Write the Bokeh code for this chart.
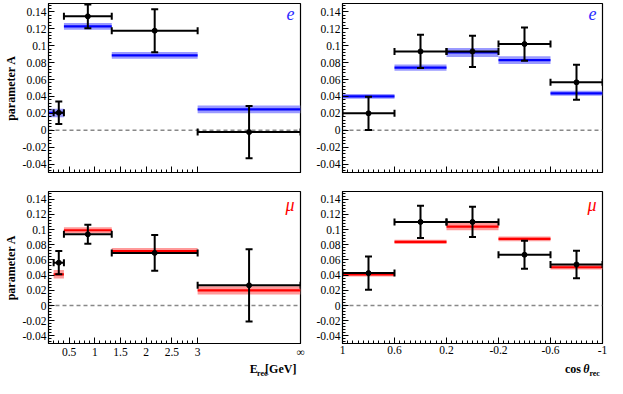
import numpy as np
from bokeh.plotting import figure
from bokeh.models import Range1d, FixedTicker, CustomJSTickFormatter, Span, Label
from bokeh.layouts import gridplot
from bokeh.embed import file_html
from bokeh.resources import INLINE

# ---------------- data ----------------
# reconstructed-energy bins [GeV] (last bin 3 GeV .. infinity, drawn up to 5)
E_lo = [0.2, 0.4, 1.33, 3.0]
E_hi = [0.4, 1.33, 3.0, 5.0]
E_mid = [0.3, 0.865, 2.165, 4.0]
E_band_lo_e = [0.1, 0.4, 1.33, 3.0]
E_band_lo_mu = [0.2, 0.4, 1.33, 3.0]
E_ticks = [0.5, 1.0, 1.5, 2.0, 2.5, 3.0, 5.0]

# cos(theta_rec) bins
C_lo = [1.0, 0.6, 0.2, -0.2, -0.6]
C_hi = [0.6, 0.2, -0.2, -0.6, -1.0]
C_mid = [0.8, 0.4, 0.0, -0.4, -0.8]
C_ticks = [1.0, 0.6, 0.2, -0.2, -0.6, -1.0]

Y_ticks = [-0.04, -0.02, 0.0, 0.02, 0.04, 0.06, 0.08, 0.1, 0.12, 0.14]

# electron, energy
eE_data = [0.0207, 0.1348, 0.1178, -0.0022]
eE_err = [0.0133, 0.0140, 0.0255, 0.0310]
eE_mc = [0.0205, 0.1230, 0.0885, 0.0248]
eE_mc_err = [0.0050, 0.0040, 0.0040, 0.0046]

# electron, angle
eC_data = [0.0200, 0.0933, 0.0933, 0.1020, 0.0567]
eC_err = [0.0197, 0.0197, 0.0185, 0.0197, 0.0207]
eC_mc = [0.0400, 0.0740, 0.0920, 0.0830, 0.0437]
eC_mc_err = [0.0028, 0.0037, 0.0052, 0.0046, 0.0030]

# muon, energy
mE_data = [0.0563, 0.0937, 0.0692, 0.0266]
mE_err = [0.0153, 0.0125, 0.0235, 0.0475]
mE_mc = [0.0410, 0.0990, 0.0716, 0.0200]
mE_mc_err = [0.0056, 0.0040, 0.0040, 0.0054]

# muon, angle
mC_data = [0.0426, 0.1100, 0.1100, 0.0668, 0.0540]
mC_err = [0.0220, 0.0211, 0.0200, 0.0185, 0.0181]
mC_mc = [0.0410, 0.0837, 0.1038, 0.0877, 0.0503]
mC_mc_err = [0.0027, 0.0028, 0.0048, 0.0030, 0.0030]

FONT = "'Liberation Serif'"

Y_FMT = """
let s = tick.toFixed(2);
if (s.indexOf('.') >= 0) { s = s.replace(/0+$/, '').replace(/\\.$/, ''); }
if (s == '-0') { s = '0'; }
return s;
"""
E_FMT = """
if (Math.abs(tick - 5) < 1e-9) { return '\u221e'; }
let s = tick.toFixed(1);
s = s.replace(/0+$/, '').replace(/\\.$/, '');
return s;
"""
C_FMT = """
let s = tick.toFixed(1);
s = s.replace(/0+$/, '').replace(/\\.$/, '');
if (s == '-0') { s = '0'; }
return s;
"""
NONE_FMT = "return '';"

W_LEFT = 306
W_RIGHT = 301
H_TOP = 180
H_BOT = 180
H_TITLE = 18


def make_panel(kind, top, left, lo, hi, mid, band_lo, data, err, mc, mc_err,
               color, band_color, tag, tag_color):
    if kind == "E":
        xr = Range1d(0.1, 5.0)
        xt = E_ticks
        xm = [round(v, 3) for v in np.arange(0.2, 3.0001, 0.1)]
        fmt = E_FMT
    else:
        xr = Range1d(1.0, -1.0)
        xt = C_ticks
        xm = [round(v, 3) for v in np.arange(-1.0, 1.0001, 0.04)]
        fmt = C_FMT
    p = figure(width=W_LEFT if left else W_RIGHT, height=H_TOP if top else H_BOT,
               x_range=xr, y_range=Range1d(-0.05, 0.15), title=None,
               output_backend="svg", toolbar_location=None,
               min_border_left=40 if left else 36,
               min_border_right=6 if left else 5,
               min_border_top=3 if top else 11,
               min_border_bottom=8 if top else 15,
               background_fill_color="white", border_fill_color="white",
               outline_line_color="black", outline_line_width=1.2)
    p.xgrid.visible = False
    p.ygrid.visible = False

    ym = [round(v, 4) for v in np.arange(-0.048, 0.1501, 0.004)]
    p.yaxis.ticker = FixedTicker(ticks=Y_ticks, minor_ticks=ym)
    p.yaxis.formatter = CustomJSTickFormatter(code=Y_FMT)
    p.xaxis.ticker = FixedTicker(ticks=xt, minor_ticks=xm)
    p.xaxis.formatter = CustomJSTickFormatter(code=NONE_FMT if top else fmt)
    for ax in (p.xaxis[0], p.yaxis[0]):
        ax.major_tick_in = 6
        ax.major_tick_out = 0
        ax.minor_tick_in = 3
        ax.minor_tick_out = 0
        ax.axis_line_color = "black"
        ax.major_tick_line_color = "black"
        ax.minor_tick_line_color = "black"
        ax.major_label_text_font = FONT
        ax.major_label_text_font_size = "11.5px"
        ax.major_label_text_color = "black"
        ax.major_label_standoff = 2
    if left:
        p.yaxis.axis_label = "parameter A"
        p.yaxis.axis_label_text_font = FONT
        p.yaxis.axis_label_text_font_style = "bold"
        p.yaxis.axis_label_text_font_size = "12px"
        p.yaxis.axis_label_text_color = "black"
        p.yaxis.axis_label_standoff = 2

    p.add_layout(Span(location=0, dimension="width", line_color="#888888",
                      line_dash="4 3", line_width=1.5, level="underlay"))

    lo_a = np.array(lo); hi_a = np.array(hi); mid_a = np.array(mid)
    d = np.array(data); e = np.array(err)
    m = np.array(mc); me = np.array(mc_err)
    bl = np.array(band_lo)

    p.quad(left=bl, right=hi_a, bottom=m - me, top=m + me,
           fill_color=band_color, fill_alpha=1.0, line_color=None)
    p.segment(x0=bl, y0=m, x1=hi_a, y1=m, line_color=color, line_width=2.2)

    p.segment(x0=lo_a, y0=d, x1=hi_a, y1=d, line_color="black", line_width=2)
    p.segment(x0=mid_a, y0=d - e, x1=mid_a, y1=d + e, line_color="black", line_width=2)
    p.scatter(x=np.concatenate([lo_a, hi_a]), y=np.concatenate([d, d]),
              marker="dash", angle=np.pi / 2, size=7, line_color="black", line_width=2)
    p.scatter(x=np.concatenate([mid_a, mid_a]), y=np.concatenate([d - e, d + e]),
              marker="dash", size=7, line_color="black", line_width=2)
    p.scatter(x=mid_a, y=d, marker="circle", size=5, fill_color="black", line_color="black")

    p.add_layout(Label(x=xr.end, y=0.15, x_offset=-6, y_offset=-3, text=tag,
                       text_align="right", text_baseline="top",
                       text_font=FONT, text_font_style="italic",
                       text_font_size="18px", text_color=tag_color))
    return p


def xtitle_strip(w, right_x, parts):
    s = figure(width=w, height=H_TITLE, x_range=Range1d(0, w), y_range=Range1d(0, H_TITLE),
               x_axis_type=None, y_axis_type=None, title=None,
               output_backend="svg", toolbar_location=None,
               min_border=0, min_border_left=0, min_border_right=0,
               min_border_top=0, min_border_bottom=0,
               background_fill_color="white", border_fill_color="white",
               outline_line_color=None)
    s.xgrid.visible = False
    s.ygrid.visible = False
    for txt, dx, yb, fs, st in parts:
        s.add_layout(Label(x=right_x + dx, y=yb, text=txt,
                           text_align="right", text_baseline="bottom",
                           text_font=FONT, text_font_style=st,
                           text_font_size=fs, text_color="black"))
    return s


BLUE = "#0000ff"
BLUE_BAND = "#9a9aff"
RED = "#ff0000"
RED_BAND = "#ff9a9a"

p1 = make_panel("E", True, True, E_lo, E_hi, E_mid, E_band_lo_e,
                eE_data, eE_err, eE_mc, eE_mc_err, BLUE, BLUE_BAND, "e", "#2a2aff")
p2 = make_panel("C", True, False, C_lo, C_hi, C_mid, C_lo,
                eC_data, eC_err, eC_mc, eC_mc_err, BLUE, BLUE_BAND, "e", "#2a2aff")
p3 = make_panel("E", False, True, E_lo, E_hi, E_mid, E_band_lo_mu,
                mE_data, mE_err, mE_mc, mE_mc_err, RED, RED_BAND, "\u03bc", "#ff0000")
p4 = make_panel("C", False, False, C_lo, C_hi, C_mid, C_lo,
                mC_data, mC_err, mC_mc, mC_mc_err, RED, RED_BAND, "\u03bc", "#ff0000")

t1 = xtitle_strip(W_LEFT, W_LEFT - 6 + 1, [
    ("[GeV]", 0, 2.5, "12px", "bold"),
    ("rec", -35, 1, "8px", "bold"),
    ("E", -47, 2.5, "12px", "bold"),
])
t2 = xtitle_strip(W_RIGHT, W_RIGHT - 5 + 2, [
    ("rec", 0, 1, "8px", "bold"),
    ("\u03b8", -12, 2.5, "12px", "bold italic"),
    ("cos", -22, 2.5, "12px", "bold"),
])

grid = gridplot([[p1, p2], [p3, p4], [t1, t2]], toolbar_location=None)

open("out.html", "w").write(file_html(grid, INLINE))
